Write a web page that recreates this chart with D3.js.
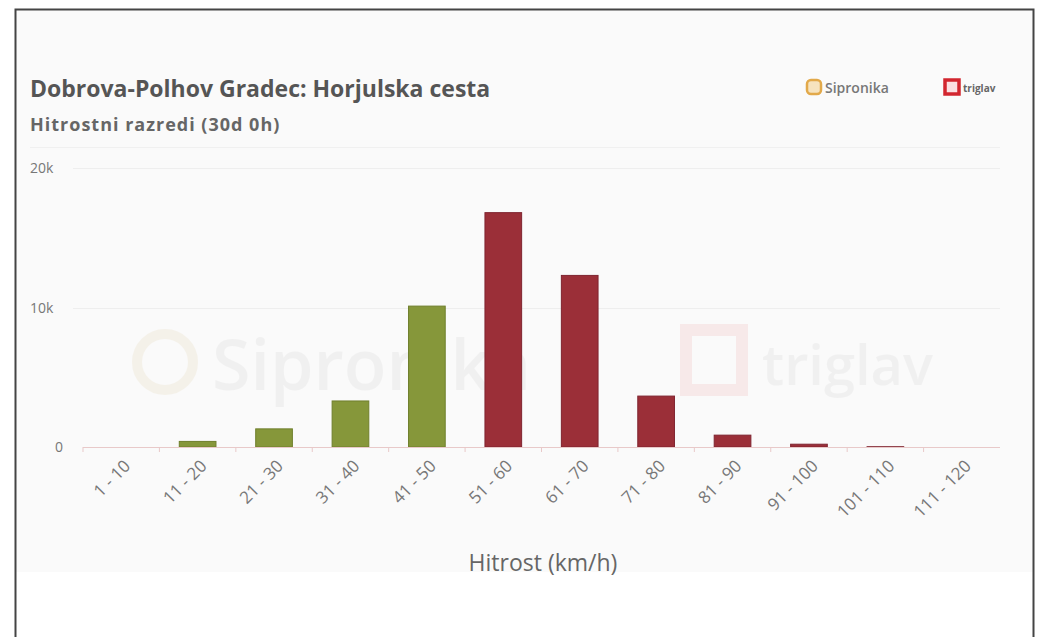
<!DOCTYPE html>
<html>
<head>
<meta charset="utf-8">
<script src="https://cdn.jsdelivr.net/npm/d3@7"></script>
<style>
  body { margin: 0; background: #fff; font-family: "Open Sans", sans-serif; }
  svg { display: block; }
</style>
</head>
<body>
<div id="graph"></div>
<script>
var categories = ["1 - 10", "11 - 20", "21 - 30", "31 - 40", "41 - 50", "51 - 60",
                  "61 - 70", "71 - 80", "81 - 90", "91 - 100", "101 - 110", "111 - 120"];
var counts = [0, 400, 1300, 3300, 10100, 16800, 12300, 3650, 850, 200, 20, 0];
var yTicks = [0, 10000, 20000];
var yTickLabels = ["0", "10k", "20k"];
var limit = 50; // bars up to 50 km/h are green, above are red

var W = 1050, H = 637;
var margin = {top: 168, right: 50, bottom: 190, left: 83},
    width = 1000 - margin.left,
    height = 447 - margin.top;

var svg = d3.select("#graph").append("svg")
    .attr("width", W)
    .attr("height", H);

// outer frame + light panel
svg.append("rect").attr("x", 16).attr("y", 9).attr("width", 1018).attr("height", 563)
   .attr("fill", "#fafafa");
svg.append("path").attr("d", "M15.5,640V9.5H1033.5V640")
   .attr("fill", "none").attr("stroke", "#444").attr("stroke-width", 2);

// title
svg.append("text").attr("x", 30).attr("y", 97)
   .attr("font-size", 23).attr("font-weight", 700).attr("fill", "#555")
   .text("Dobrova-Polhov Gradec: Horjulska cesta");
svg.append("text").attr("x", 30).attr("y", 131)
   .attr("font-size", 18).attr("font-weight", 700).attr("fill", "#666")
   .attr("letter-spacing", 1)
   .text("Hitrostni razredi (30d 0h)");
svg.append("line").attr("x1", 30).attr("x2", 1000).attr("y1", 147.5).attr("y2", 147.5)
   .attr("stroke", "#f0f0f0");

// logos top right
var logo = svg.append("g");
logo.append("rect").attr("x", 807).attr("y", 80).attr("width", 14).attr("height", 14).attr("rx", 4)
    .attr("fill", "#f6e3bf").attr("stroke", "#e2a94a").attr("stroke-width", 2.5);
logo.append("text").attr("x", 825).attr("y", 93).attr("font-size", 14).attr("font-weight", 600)
    .attr("fill", "#777").text("Sipronika");
logo.append("rect").attr("x", 945).attr("y", 80).attr("width", 14).attr("height", 14)
    .attr("fill", "#fbe0e2").attr("stroke", "#d2262f").attr("stroke-width", 3.5);
logo.append("text").attr("x", 963).attr("y", 92).attr("font-size", 10).attr("font-weight", 700)
    .attr("fill", "#666").text("triglav");

// faded watermarks
var wm = svg.append("g").attr("opacity", 0.09);
wm.append("circle").attr("cx", 165).attr("cy", 362).attr("r", 28)
  .attr("fill", "none").attr("stroke", "#c4a24c").attr("stroke-width", 10);
wm.append("text").attr("x", 212).attr("y", 390).attr("font-size", 70).attr("font-weight", 600)
  .attr("fill", "#999").text("Sipronika");
wm.append("rect").attr("x", 686).attr("y", 330).attr("width", 56).attr("height", 60)
  .attr("fill", "none").attr("stroke", "#e0454d").attr("stroke-width", 12);
wm.append("text").attr("x", 762).attr("y", 385).attr("font-size", 56).attr("font-weight", 600)
  .attr("fill", "#999").text("triglav");

var g = svg.append("g").attr("transform", "translate(" + margin.left + "," + margin.top + ")");

var x = d3.scaleBand().domain(categories).range([0, width]).paddingInner(0.52).paddingOuter(0.26);
var y = d3.scaleLinear().domain([0, 20000]).range([height, 0]);

// gridlines
g.selectAll(".grid").data(yTicks.slice(1)).enter().append("line")
  .attr("x1", -10).attr("x2", width)
  .attr("y1", function(d) { return Math.round(y(d)) + 0.5; })
  .attr("y2", function(d) { return Math.round(y(d)) + 0.5; })
  .attr("stroke", "#eeeeee");

// y labels
g.selectAll(".ylab").data(yTicks).enter().append("text")
  .attr("x", function(d, i) { return i === 0 ? -28 : -53; })
  .attr("y", function(d) { return y(d) + 5; })
  .attr("font-size", 14).attr("fill", "#777")
  .text(function(d, i) { return yTickLabels[i]; });

// bars
g.selectAll(".bar").data(counts).enter().append("rect")
  .attr("x", function(d, i) { return x(categories[i]); })
  .attr("width", x.bandwidth())
  .attr("y", function(d) { return y(d); })
  .attr("height", function(d) { return height - y(d); })
  .attr("fill", function(d, i) { return (i + 1) * 10 <= limit ? "#86973a" : "#9b2f38"; })
  .attr("stroke", function(d, i) { return (i + 1) * 10 <= limit ? "#6f7f2c" : "#7f2430"; })
  .attr("stroke-width", 1);

// x axis
var xAxis = d3.axisBottom(x).tickSize(5).tickSizeOuter(0);
var ax = g.append("g").attr("transform", "translate(0," + height + ")").call(xAxis);
ax.select(".domain").attr("stroke", "#e8c9c9").attr("d", "M0,0.5H" + width);
ax.selectAll(".tick line").attr("stroke", "#e8c9c9")
  .attr("transform", "translate(" + (-x.step() / 2) + ",0)");
ax.selectAll(".tick text")
  .attr("font-family", "Open Sans, sans-serif").attr("font-size", 17).attr("fill", "#777")
  .attr("text-anchor", "end")
  .attr("transform", "translate(6,16) rotate(-45)")
  .attr("dy", "0.35em").attr("y", 0).attr("x", 0);

svg.append("text").attr("x", 543).attr("y", 571).attr("text-anchor", "middle")
   .attr("font-size", 23).attr("fill", "#666").text("Hitrost (km/h)");
</script>
</body>
</html>
